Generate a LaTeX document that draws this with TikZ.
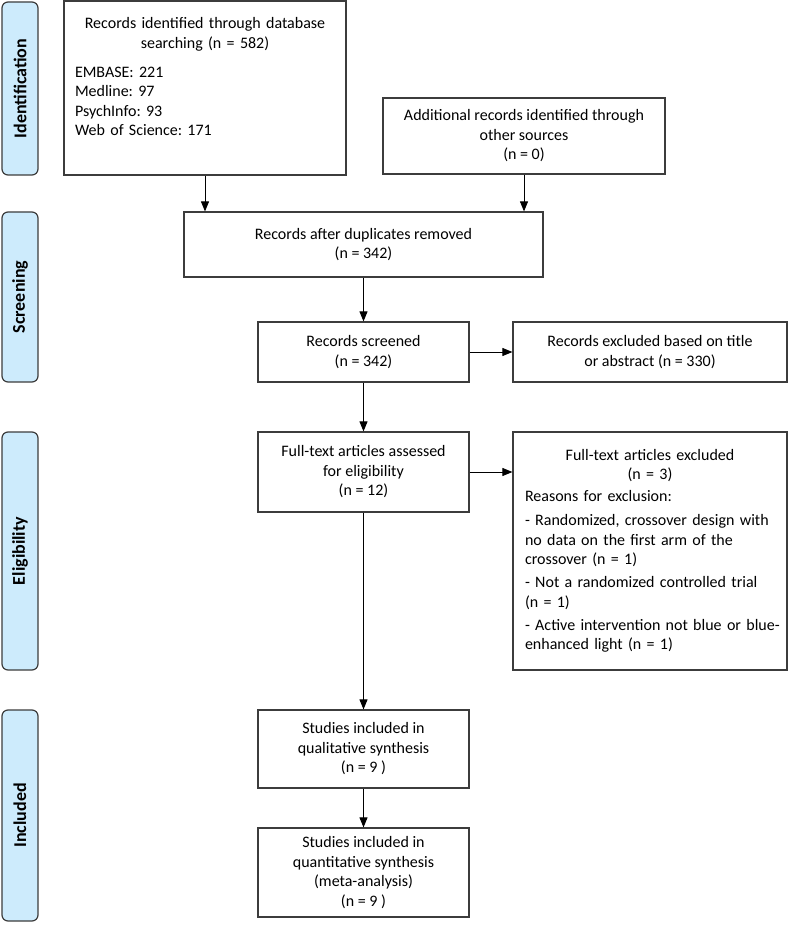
\documentclass[tikz,border=0pt]{standalone}
\usepackage{fontspec}
\setmainfont{Carlito}
\usetikzlibrary{arrows.meta}
\definecolor{phasefill}{RGB}{205,235,252}
\definecolor{boxline}{RGB}{60,60,60}
\tikzset{box/.style = {draw=boxline, line width=1.2pt, inner sep=0pt, font=\fontsize{16}{19.5}\selectfont},
         cbox/.style = {box, align=center},
         phase/.style = {draw=boxline, line width=1.2pt, fill=phasefill, rounded corners=6pt, rotate=90,
                         minimum height=36pt, inner sep=0pt, font=\fontsize{18}{20}\selectfont\bfseries},
         arr/.style = {-{Triangle[length=10pt,width=8pt]}, line width=0.9pt}}

\begin{document}
\frenchspacing
\begin{tikzpicture}[x=1pt, y=-1pt]
    \useasboundingbox (0,0) rectangle (788,925);

    % phase labels on the left
    \node [phase, minimum width=173pt] (sideid)   at (20, 88.5)  {Identification};
    \node [phase, minimum width=170pt] (sidescr)  at (20, 297)   {Screening};
    \node [phase, minimum width=238pt] (sideelig) at (20, 551)   {Eligibility};
    \node [phase, minimum width=211pt] (sideincl) at (20, 815.5) {Included};

    % flow boxes
    \node [box, minimum width=282pt, minimum height=174pt, inner xsep=11pt, text width=260pt] (db) at (205, 88) {%
        {\centering Records identified through database\\ searching (n = 582)\par}
        \vspace{9.5pt}
        \raggedright EMBASE: 221\\ Medline: 97\\ PsychInfo: 93\\ Web of Science: 171\par
        \vspace{22pt}\hrule height 0pt width 0pt};
    \node [cbox, minimum width=282pt, minimum height=76pt] (other) at (524, 136)
        {Additional records identified through\\ other sources\\ (n = 0)};
    \node [cbox, minimum width=359pt, minimum height=65pt] (dup) at (363.5, 244.5)
        {Records after duplicates removed\\ (n = 342)};
    \node [cbox, minimum width=211pt, minimum height=60pt] (screened) at (363.5, 352)
        {Records screened\\ (n = 342)};
    \node [cbox, minimum width=274pt, minimum height=60pt] (exctitle) at (650, 352)
        {Records excluded based on title\\ or abstract (n = 330)};
    \node [cbox, minimum width=211pt, minimum height=80pt] (fulltext) at (363.5, 472)
        {Full-text articles assessed\\ for eligibility\\ (n = 12)};
    \node [box, minimum width=274pt, minimum height=238pt, inner xsep=12pt, text width=250pt] (excft) at (650, 551) {%
        {\centering Full-text articles excluded\\ (n = 3)\par}
        \vspace{2.5pt}
        \raggedright Reasons for exclusion:\par
        \vspace{4.5pt}
        - Randomized, crossover design with\\ no data on the first arm of the\\ crossover (n = 1)\par
        \vspace{3.5pt}
        - Not a randomized controlled trial\\ (n = 1)\par
        \vspace{3.5pt}
        \mbox{- Active intervention not blue or blue-}\\ enhanced light (n = 1)\par};
    \node [cbox, minimum width=211pt, minimum height=78pt] (qual) at (363.5, 749)
        {Studies included in\\ qualitative synthesis\\ (n = 9 )};
    \node [cbox, minimum width=211pt, minimum height=89pt] (quant) at (363.5, 872.5)
        {Studies included in\\ quantitative synthesis\\ (meta-analysis)\\ (n = 9 )};

    % connectors
    \draw [arr] (db.south) -- (db.south |- dup.north);
    \draw [arr] (other.south) -- (other.south |- dup.north);
    \draw [arr] (dup) -- (screened);
    \draw [arr] (screened) -- (exctitle);
    \draw [arr] (screened) -- (fulltext);
    \draw [arr] (fulltext.east) -- (fulltext.east -| excft.west);
    \draw [arr] (fulltext) -- (qual);
    \draw [arr] (qual) -- (quant);
\end{tikzpicture}
\end{document}
